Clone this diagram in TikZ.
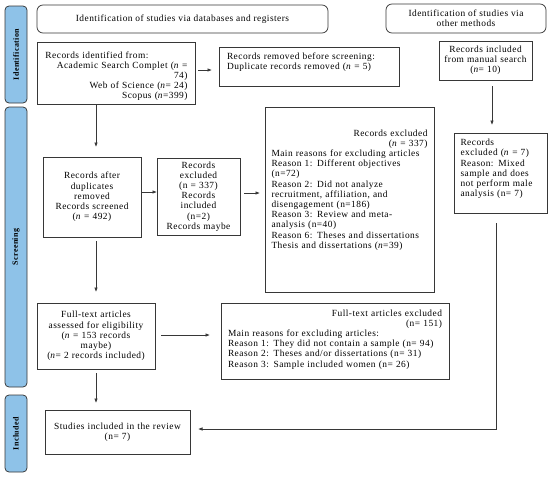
\documentclass[tikz,border=0pt]{standalone}
\usepackage{fontspec}
\setmainfont{Liberation Serif}[LetterSpace=5]
\usetikzlibrary{arrows.meta,calc}
\definecolor{sideblue}{RGB}{142,194,232}
\definecolor{lncol}{RGB}{55,55,55}
\begin{document}
\begin{tikzpicture}[x=1pt,y=-1pt,font=\fontsize{9.4}{10.2}\selectfont]
\tikzset{
  box/.style={draw=lncol, line width=0.75pt, inner sep=0pt, outer sep=0pt},
  hdr/.style={box, rounded corners=6pt},
  side/.style={draw=lncol, line width=0.75pt, fill=sideblue, rounded corners=4pt, rotate=90, font=\fontsize{8}{9}\selectfont\bfseries, inner sep=0pt},
  arr/.style={draw=lncol, line width=0.75pt, -{Latex[length=4.5pt,width=3.6pt]}},
}
\useasboundingbox (0,0) rectangle (550,483);
% side bars
\node[side, minimum width=97pt, minimum height=22pt] (s1) at (16,54.5) {Identification};
\node[side, minimum width=280pt, minimum height=22pt] (s2) at (16,247) {Screening};
\node[side, minimum width=77pt, minimum height=22pt] (s3) at (16,433.5) {Included};
% headers
\node[hdr, minimum width=291pt, minimum height=28pt] (hdr1) at (182.5,19) {Identification of studies via databases and registers};
\node[hdr, minimum width=160pt, minimum height=29pt, align=center] (hdr2) at (466,18.5) {Identification of studies via\\other methods};
% identification
\node[box, minimum width=158pt, minimum height=62pt, text width=143pt, align=right] (ident) at (116,73)
 {\makebox[143pt][l]{\rule{0pt}{13pt}\hspace{1pt}Records identified from:}\\Academic Search Complet (\textit{n} =\\74)\\Web of Science (\textit{n}= 24)\\Scopus (\textit{n}=399)};
\node[box, minimum width=180pt, minimum height=39pt, text width=164pt, align=left] (removed) at (309,66.5)
 {Records removed before screening:\\Duplicate records removed (\textit{n} = 5)\\\mbox{}};
\node[box, minimum width=93pt, minimum height=39pt, text width=90pt, align=center] (manual) at (485.5,60.5)
 {Records included\\from manual search\\(\textit{n}= 10)};
% screening
\node[box, minimum width=98pt, minimum height=80pt, text width=94pt, align=center] (after) at (92,197)
 {Records after\\duplicates\\removed\\Records screened\\(\textit{n} = 492)};
\node[box, minimum width=83pt, minimum height=77pt, text width=80pt, align=center] (excl1) at (198.5,196.5)
 {Records\\excluded\\(n = 337)\\Records\\included\\(n=2)\\Records maybe};
\node[box, minimum width=169pt, minimum height=185pt, text width=156pt, align=left] (big) at (349.5,199.5)
 {\hspace*{\fill}Records excluded\\
  \hspace*{\fill}(\textit{n} = 337)\\
  Main reasons for excluding articles\\
  Reason 1: Different objectives\\
  (n=72)\\
  Reason 2: Did not analyze\\
  recruitment, affiliation, and\\
  disengagement (n=186)\\
  Reason 3: Review and meta-\\
  analysis (n=40)\\
  Reason 6: Theses and dissertations\\
  Thesis and dissertations (\textit{n}=39)\\[11pt]\mbox{}};
\node[box, minimum width=93pt, minimum height=80pt, text width=80pt, align=left] (excl7) at (500.5,173)
 {Records\\excluded (\textit{n} = 7)\\Reason: Mixed\\sample and does\\not perform male\\analysis (n= 7)\\\mbox{}};
\node[box, minimum width=118pt, minimum height=66pt, text width=114pt, align=center] (assessed) at (96,336)
 {Full-text articles\\assessed for eligibility\\(\textit{n} = 153 records\\maybe)\\(\textit{n}= 2 records included)};
\node[box, minimum width=228pt, minimum height=76pt, text width=214pt, align=left] (ftexcl) at (335,341)
 {\hspace*{\fill}Full-text articles excluded\\
  \hspace*{\fill}(n= 151)\\
  Main reasons for excluding articles:\\
  Reason 1: They did not contain a sample (n= 94)\\
  Reason 2: Theses and/or dissertations (n= 31)\\
  Reason 3: Sample included women (n= 26)\\[-5pt]\mbox{}};
% included
\node[box, minimum width=145pt, minimum height=44pt, text width=140pt, align=center] (included) at (117.5,432)
 {Studies included in the review\\(n= 7)};
% connectors
\draw[arr, shorten >=10pt] (ident.south -| assessed.north) -- (after.north -| assessed.north);
\draw[arr, shorten <=3pt, shorten >=7pt] ([yshift=3pt]ident.east) -- ([yshift=3pt]ident.east -| removed.west);
\draw[arr, shorten <=1pt] ([yshift=5pt]after.east) -- ([yshift=5pt]after.east -| excl1.west);
\draw[arr, shorten <=4pt, shorten >=5pt] ([yshift=3.5pt]excl1.east) -- ([yshift=3.5pt]excl1.east -| big.west);
\draw[arr, shorten <=6pt, shorten >=8pt] ([xshift=6.5pt]manual.south) -- ([xshift=6.5pt]manual.south |- excl7.north);
\draw[arr, shorten <=10pt, shorten >=8pt] ([xshift=-4.5pt]excl7.south) |- ([yshift=3pt]included.east);
\draw[arr, shorten <=4pt, shorten >=11pt] (after.south -| assessed.north) -- (assessed.north);
\draw[arr, shorten <=6pt, shorten >=11pt] ([yshift=1pt]assessed.east) -- ([yshift=1pt]assessed.east -| ftexcl.west);
\draw[arr, shorten <=4pt, shorten >=7pt] (assessed.south) -- (assessed.south |- included.north);
\end{tikzpicture}
\end{document}
